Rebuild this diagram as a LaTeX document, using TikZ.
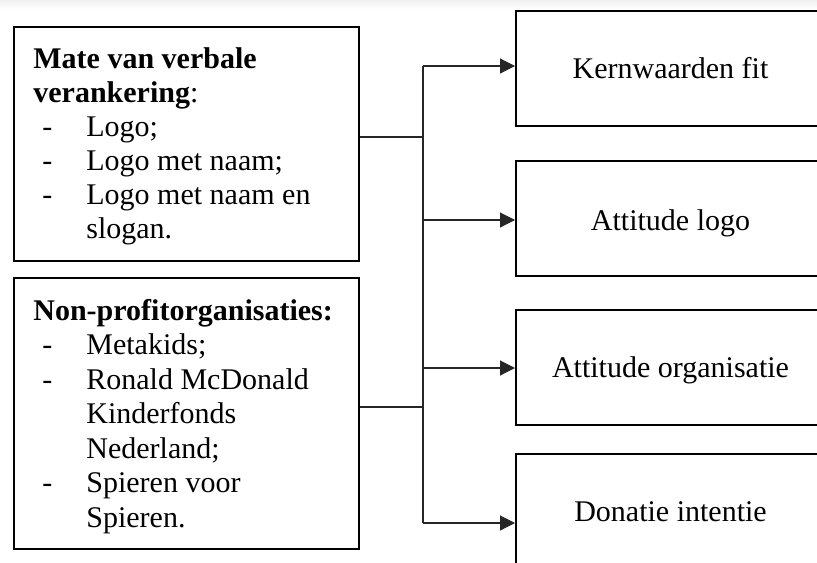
\documentclass[tikz,border=0pt]{standalone}
\usepackage{fontspec}
\setmainfont{Liberation Serif}
\usetikzlibrary{arrows.meta}
\begin{document}
\begin{tikzpicture}[x=0.5pt,y=-0.5pt,
  box/.style={draw=black, line width=1.1pt, inner sep=0pt, anchor=north west},
  lbl/.style={anchor=base west, inner sep=0pt, font=\fontsize{15}{17}\selectfont},
  ctr/.style={anchor=base, inner sep=0pt, font=\fontsize{15}{17}\selectfont},
  conn/.style={draw=black!85, line width=0.55pt},
  arr/.style={conn, -{Triangle[length=7.5pt,width=7.5pt]}}]
\useasboundingbox (0,0) rectangle (817,562);
\clip (0,0) rectangle (817,562);
\shade[top color=gray!12, bottom color=white] (0,0) rectangle (817,9);
% left boxes
\node[box, minimum width=172.5pt, minimum height=117pt] (l1) at (13,26) {};
\node[box, minimum width=172.5pt, minimum height=135.5pt] (l2) at (13,277) {};
% right boxes
\node[box, minimum width=155.5pt, minimum height=57.5pt] (r1) at (515,10) {};
\node[box, minimum width=155.5pt, minimum height=57.5pt] (r2) at (515,160) {};
\node[box, minimum width=155.5pt, minimum height=57.5pt] (r3) at (515,309) {};
\node[box, minimum width=155.5pt, minimum height=57.5pt] (r4) at (515,453) {};
% right box texts
\node[ctr] (t1) at (670.5,78) {Kernwaarden fit};
\node[ctr] (t2) at (670.5,230) {Attitude logo};
\node[ctr] (t3) at (670.5,377) {Attitude organisatie};
\node[ctr] (t4) at (670.5,521) {Donatie intentie};
% left box 1 text
\node[lbl] (a0) at (33,68) {\textbf{Mate van verbale}};
\node[lbl] (a1) at (33,102) {\textbf{verankering}:};
\node[lbl] (d1) at (42,136) {-};
\node[lbl] (a2) at (86,136) {Logo;};
\node[lbl] (d2) at (42,170) {-};
\node[lbl] (a3) at (86,170) {Logo met naam;};
\node[lbl] (d3) at (42,204) {-};
\node[lbl] (a4) at (86,204) {Logo met naam en};
\node[lbl] (a5) at (86,238) {slogan.};
% left box 2 text
\node[lbl] (b0) at (33,320) {\textbf{Non-profitorganisaties:}};
\node[lbl] (e1) at (42,354.5) {-};
\node[lbl] (b1) at (86,354.5) {Metakids;};
\node[lbl] (e2) at (42,389) {-};
\node[lbl] (b2) at (86,389) {Ronald McDonald};
\node[lbl] (b3) at (86,423.5) {Kinderfonds};
\node[lbl] (b4) at (86,458) {Nederland;};
\node[lbl] (e3) at (42,492.5) {-};
\node[lbl] (b5) at (86,492.5) {Spieren voor};
\node[lbl] (b6) at (86,527) {Spieren.};
% connectors
\coordinate (j1) at (423,137);
\coordinate (j2) at (423,407);
\coordinate (v1) at (423,66);
\coordinate (v2) at (423,220);
\coordinate (v3) at (423,368);
\coordinate (v4) at (423,523);
\draw[conn] (l1.east |- j1) -- (j1);
\draw[conn] (l2.east |- j2) -- (j2);
\draw[conn] (v1) -- (v4);
\draw[arr] (v1) -- (r1.west |- v1);
\draw[arr] (v2) -- (r2.west |- v2);
\draw[arr] (v3) -- (r3.west |- v3);
\draw[arr] (v4) -- (r4.west |- v4);
\end{tikzpicture}
\end{document}
